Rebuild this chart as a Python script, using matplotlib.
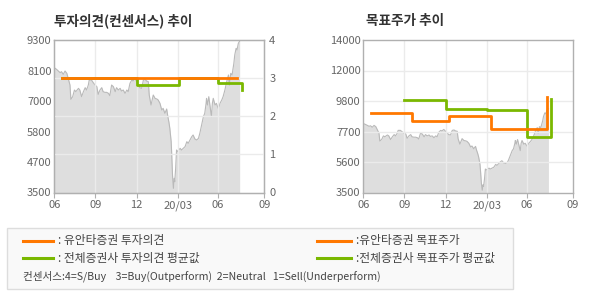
import matplotlib
matplotlib.use("Agg")
import matplotlib.pyplot as plt
from matplotlib.lines import Line2D
from matplotlib.patches import Rectangle

plt.rcParams['font.family'] = ['Noto Sans CJK KR', 'DejaVu Sans']

# ---------------- data ----------------
# days since 2019-06-01
price_days = [0, 5, 9, 13, 16, 20, 24, 28, 31, 35, 37, 41, 45, 48, 54, 57, 61, 65, 69, 72,
              76, 78, 83, 87, 91, 95, 98, 102, 106, 109, 113, 117, 121, 124, 128, 132, 136,
              139, 143, 147, 150, 154, 158, 162, 165, 169, 173, 176, 180, 184, 188, 191, 195,
              199, 203, 206, 210, 212, 216, 221, 225, 229, 232, 236, 240, 243, 247, 251, 253,
              256, 258, 261, 262, 264, 266, 268, 269, 271, 273, 275, 278, 281, 284, 288, 292,
              296, 299, 303, 307, 310, 314, 318, 322, 325, 329, 333, 336, 339, 340, 342, 345,
              348, 351, 353, 355, 359, 362, 366, 368, 370, 374, 377, 381, 385, 389, 391, 394,
              397, 401, 403, 406, 408, 411, 414]
price = [8247, 8184, 8121, 8057, 8095, 7994, 8121, 8032, 7842, 7588, 7043, 7145, 7398, 7335,
         7461, 7398, 7145, 7335, 7487, 7398, 7588, 7778, 7778, 7677, 7588, 7525, 7233, 7398,
         7487, 7335, 7309, 7309, 7271, 7183, 7588, 7525, 7335, 7487, 7398, 7461, 7360, 7398,
         7271, 7398, 7335, 7652, 7778, 7740, 7842, 7715, 7588, 7487, 7461, 7778, 7804, 7740,
         7715, 7208, 6828, 7208, 7081, 7056, 7018, 6891, 6637, 6701, 6511, 6676, 6447, 6169,
         5940, 5433, 5053, 4166, 3658, 4039, 3912, 4419, 5116, 5053, 5116, 5180, 5116, 5180,
         5243, 5433, 5370, 5497, 5623, 5687, 5535, 5497, 5560, 5750, 6067, 6384, 6511, 6891,
         7081, 6828, 7145, 6764, 6384, 6891, 7081, 6828, 6891, 6701, 6764, 6891, 7018, 7145,
         7398, 7715, 7969, 7588, 8032, 7969, 8412, 8729, 8983, 8919, 9173, 9262]

# investment opinion (consensus, 0-4)
yuanta_op_days = [18, 409]
yuanta_op = [3.0, 3.0]
avg_op_days = [18, 184, 278, 366, 419]
avg_op = [3.0, 2.83, 3.0, 2.86, 2.70]

# target prices
yuanta_tp_days = [18, 109, 191, 285, 410]
yuanta_tp = [9000, 8400, 8800, 7900, 10100]
avg_tp_days = [92, 186, 277, 366, 419]
avg_tp = [9900, 9270, 9180, 7350, 9950]

tick_days = [0, 92, 184, 276, 366, 469]
tick_labels = ['06', '09', '12', '20/03', '06', '09']

left_yticks = [3500, 4660, 5820, 6980, 8140, 9300]
left_ylabels = ['3500', '4700', '5800', '7000', '8100', '9300']
op_ticks = [0, 1, 2, 3, 4]
right_yticks = [3500, 5600, 7700, 9800, 11900, 14000]
right_ylabels = ['3500', '5600', '7700', '9800', '12000', '14000']

# ---------------- style ----------------
ORANGE = '#ff7800'
GREEN = '#7ab800'
FILL = '#dedede'
EDGE = '#b9b9b9'
GRID = '#ebebeb'
SPINE = '#b0b0b0'
TXT = '#666666'
W, H = 590, 300
TICKFS = 8

fig = plt.figure(figsize=(W / 100, H / 100), dpi=100)


def style_axes(ax):
    for s in ax.spines.values():
        s.set_color(SPINE)
        s.set_linewidth(1)
    ax.set_xlim(tick_days[0], tick_days[-1])
    ax.set_xticks(tick_days)
    ax.set_xticklabels(tick_labels)
    ax.tick_params(axis='x', length=3.6, color=SPINE, pad=2, labelsize=TICKFS, labelcolor=TXT)
    ax.tick_params(axis='y', length=0, pad=2, labelsize=TICKFS, labelcolor=TXT)
    for d in tick_days[1:-1]:
        ax.axvline(d, color=GRID, lw=1, zorder=2)


# ----- left chart -----
ax1 = fig.add_axes([54.3 / W, 1 - 192.5 / H, 210 / W, 152.5 / H])
style_axes(ax1)
ax1.set_ylim(3500, 9300)
ax1.set_yticks(left_yticks)
ax1.set_yticklabels(left_ylabels)
ax1.fill_between(price_days, price, 3500, color=FILL, lw=0, zorder=1)
ax1.plot(price_days, price, color=EDGE, lw=0.8, zorder=1.5)

ax2 = ax1.twinx()
ax2.set_ylim(0, 4)
ax2.set_yticks(op_ticks)
ax2.tick_params(axis='y', length=0, pad=3.6, labelsize=TICKFS, labelcolor=TXT)
for s in ax2.spines.values():
    s.set_color(SPINE)
for t in op_ticks[1:-1]:
    ax2.axhline(t, color=GRID, lw=1, zorder=2)
ax2.step(avg_op_days, avg_op, where='post', color=GREEN, lw=2, zorder=3)
ax2.step(yuanta_op_days, yuanta_op, where='post', color=ORANGE, lw=2, zorder=4)

# ----- right chart -----
ax3 = fig.add_axes([363.3 / W, 1 - 192.5 / H, 209.7 / W, 152.5 / H])
style_axes(ax3)
ax3.set_ylim(3500, 14000)
ax3.set_yticks(right_yticks)
ax3.set_yticklabels(right_ylabels)
for t in right_yticks[1:-1]:
    ax3.axhline(t, color=GRID, lw=1, zorder=2)
ax3.fill_between(price_days, price, 3500, color=FILL, lw=0, zorder=1)
ax3.plot(price_days, price, color=EDGE, lw=0.8, zorder=1.5)
ax3.step(avg_tp_days, avg_tp, where='post', color=GREEN, lw=2, zorder=3)
ax3.step(yuanta_tp_days, yuanta_tp, where='post', color=ORANGE, lw=2, zorder=4)

# titles
fig.text(54.5 / W, 1 - 20.5 / H, '투자의견(컨센서스) 추이', fontsize=9.8, fontweight='bold',
         color='#333333', va='center', ha='left')
fig.text(366.5 / W, 1 - 20.5 / H, '목표주가 추이', fontsize=9.8, fontweight='bold',
         color='#333333', va='center', ha='left')

# ----- legend box -----
fig.add_artist(Rectangle((7.3 / W, 1 - 289.3 / H), 506 / W, 61 / H, transform=fig.transFigure,
                         facecolor='#f9f9f9', edgecolor='#dddddd', lw=1))


def legend_item(x0, x1, y, color, text):
    fig.add_artist(Line2D([x0 / W, x1 / W], [1 - y / H, 1 - y / H], color=color, lw=2.2,
                          transform=fig.transFigure))
    fig.text((x1 + 5) / W, 1 - y / H, text, fontsize=8.5, color='#444444', va='center', ha='left')


legend_item(22.7, 53.3, 240.7, ORANGE, ': 유안타증권 투자의견')
legend_item(22.7, 53.3, 258.3, GREEN, ': 전체증권사 투자의견 평균값')
legend_item(316.7, 350.7, 240.7, ORANGE, ':유안타증권 목표주가')
legend_item(316.7, 350.7, 258.3, GREEN, ':전체증권사 목표주가 평균값')
fig.text(22.7 / W, 1 - 276.7 / H,
         '컨센서스:4=S/Buy    3=Buy(Outperform)  2=Neutral   1=Sell(Underperform)',
         fontsize=7.6, color='#444444', va='center', ha='left')

fig.savefig('out.png', dpi=100)
